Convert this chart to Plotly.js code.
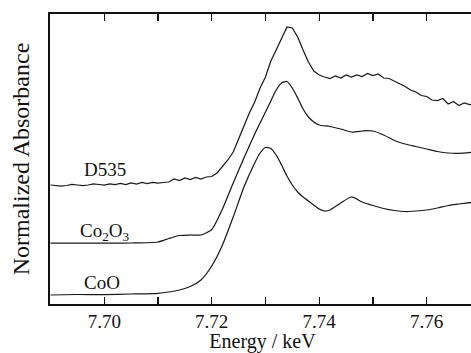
<!DOCTYPE html>
<html>
<head>
<meta charset="utf-8">
<script src="https://cdn.plot.ly/plotly-3.0.1.min.js"></script>
<style>
  html, body { margin: 0; padding: 0; overflow: hidden; background: #fff; }
  #chart { width: 480px; height: 353px; }
</style>
</head>
<body>
<div id="chart"></div>
<script>
// Energies (keV) and normalized absorbance (offset per spectrum)
const energyCoO = [7.690,7.695,7.700,7.705,7.710,7.712,7.714,7.716,7.718,7.720,7.722,7.724,7.726,7.728,7.729,7.730,7.731,7.732,7.733,7.734,7.735,7.736,7.737,7.738,7.740,7.741,7.742,7.744,7.746,7.748,7.750,7.752,7.754,7.756,7.758,7.760,7.762,7.764,7.766,7.769];
const absCoO    = [0.09,0.095,0.095,0.10,0.107,0.12,0.14,0.175,0.24,0.38,0.59,0.87,1.17,1.41,1.51,1.565,1.555,1.49,1.39,1.28,1.19,1.12,1.07,1.03,0.95,0.93,0.94,1.01,1.07,1.02,0.985,0.955,0.935,0.925,0.93,0.94,0.96,0.985,1.00,1.02];

const energyCo2O3 = [7.690,7.695,7.700,7.705,7.710,7.712,7.714,7.716,7.718,7.720,7.722,7.724,7.726,7.728,7.729,7.730,7.731,7.732,7.733,7.734,7.735,7.736,7.737,7.738,7.739,7.740,7.742,7.744,7.746,7.748,7.749,7.750,7.752,7.754,7.756,7.758,7.760,7.762,7.764,7.766,7.769];
const absCo2O3    = [0.61,0.61,0.61,0.61,0.62,0.655,0.685,0.69,0.69,0.745,0.95,1.21,1.46,1.70,1.81,1.92,2.03,2.14,2.21,2.225,2.16,2.06,1.95,1.87,1.82,1.79,1.775,1.75,1.72,1.73,1.735,1.73,1.69,1.635,1.60,1.575,1.55,1.525,1.51,1.507,1.52];

const energyD535 = [7.690,7.691,7.692,7.693,7.694,7.695,7.696,7.697,7.698,7.699,7.700,7.701,7.702,7.703,7.704,7.705,7.706,7.707,7.708,7.709,7.710,7.711,7.712,7.713,7.714,7.715,7.716,7.717,7.718,7.719,7.720,7.721,7.722,7.723,7.724,7.725,7.726,7.727,7.728,7.729,7.730,7.731,7.732,7.733,7.734,7.735,7.736,7.737,7.738,7.739,7.740,7.741,7.742,7.743,7.744,7.745,7.746,7.747,7.748,7.749,7.750,7.751,7.752,7.753,7.754,7.755,7.756,7.757,7.758,7.759,7.760,7.761,7.762,7.763,7.764,7.765,7.766,7.767,7.768,7.769];
const absD535    = [1.19,1.185,1.18,1.185,1.195,1.19,1.185,1.19,1.20,1.195,1.19,1.20,1.195,1.205,1.195,1.21,1.20,1.215,1.205,1.215,1.21,1.215,1.22,1.25,1.235,1.26,1.245,1.265,1.25,1.27,1.275,1.31,1.37,1.44,1.52,1.65,1.77,1.91,2.02,2.16,2.27,2.43,2.54,2.66,2.77,2.76,2.67,2.54,2.42,2.33,2.29,2.27,2.255,2.28,2.26,2.29,2.27,2.29,2.275,2.305,2.285,2.30,2.26,2.255,2.23,2.20,2.175,2.14,2.12,2.085,2.075,2.04,2.035,2.055,2.00,2.025,1.985,2.01,1.995,2.00];

const seriesNames = ["D535", "Co<sub>2</sub>O<sub>3</sub>", "CoO"];
const labelEnergy = [7.6958, 7.6951, 7.6958];
const labelAbs    = [1.35, 0.72, 0.215];

const FONT = "Liberation Serif, Times New Roman, serif";
const lineStyle = {color: "#1a1a1a", width: 1.25};

const traces = [
  {x: energyD535, y: absD535, mode: "lines", line: lineStyle, name: "D535"},
  {x: energyCo2O3, y: absCo2O3, mode: "lines", line: Object.assign({shape: "spline", smoothing: 0.6}, lineStyle), name: "Co2O3"},
  {x: energyCoO, y: absCoO, mode: "lines", line: Object.assign({shape: "spline", smoothing: 0.6}, lineStyle), name: "CoO"}
];

const annotations = seriesNames.map((t, i) => ({
  x: labelEnergy[i], y: labelAbs[i], xref: "x", yref: "y",
  text: t, showarrow: false, xanchor: "left", yanchor: "middle",
  font: {family: FONT, size: 19, color: "#111"}
}));

const xRange = [7.6899, 7.7690];

const layout = {
  width: 480, height: 353,
  margin: {l: 50, r: 5, t: 14, b: 49},
  paper_bgcolor: "#fff", plot_bgcolor: "#fff",
  showlegend: false,
  font: {family: FONT, color: "#111"},
  xaxis: {
    range: xRange,
    tickmode: "linear", tick0: 7.70, dtick: 0.02, tickformat: ".2f",
    ticks: "inside", ticklen: 7, tickwidth: 1.2, tickcolor: "#111",
    showline: true, linewidth: 1.6, linecolor: "#111", mirror: "ticks",
    showgrid: false, zeroline: false,
    tickfont: {family: FONT, size: 19, color: "#111"},
    minor: {tickmode: "linear", tick0: 7.69, dtick: 0.01, ticks: "inside", ticklen: 7, tickwidth: 1.2, tickcolor: "#111", showgrid: false},
    title: {text: "Energy / keV", font: {family: FONT, size: 20, color: "#111"}, standoff: 1}
  },
  xaxis2: {
    overlaying: "x", anchor: "y", side: "bottom",
    range: xRange,
    tickmode: "linear", tick0: 7.695, dtick: 0.01,
    ticks: "inside", ticklen: 4, tickwidth: 1, tickcolor: "#111",
    showticklabels: false, showline: false, mirror: "ticks",
    showgrid: false, zeroline: false
  },
  yaxis: {
    range: [0, 2.9],
    showticklabels: false, ticks: "",
    showline: true, linewidth: 1.6, linecolor: "#111", mirror: true,
    showgrid: false, zeroline: false,
    title: {text: "Normalized Absorbance", font: {family: FONT, size: 24, color: "#111"}, standoff: 12}
  },
  annotations: annotations
};

Plotly.newPlot("chart", traces, layout, {displayModeBar: false, staticPlot: true});
</script>
</body>
</html>
